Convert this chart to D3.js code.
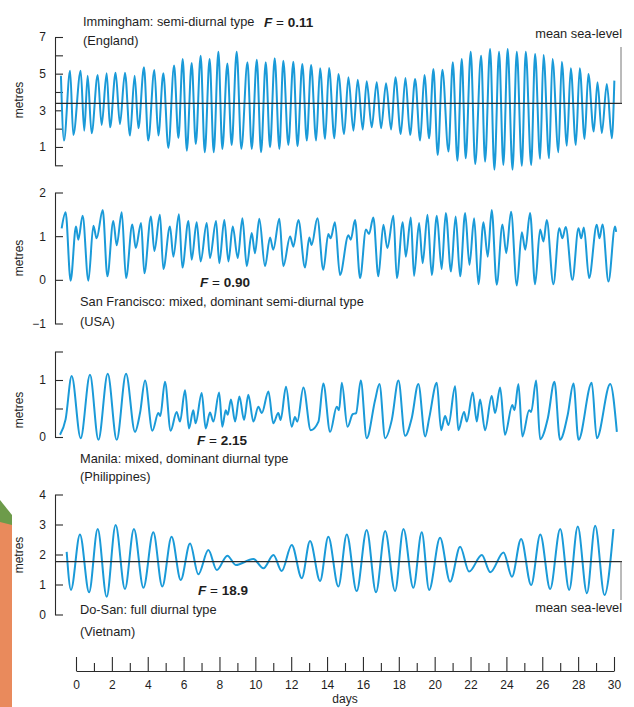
<!DOCTYPE html>
<html><head><meta charset="utf-8">
<script src="https://cdn.jsdelivr.net/npm/d3@7"></script>
<style>
body{margin:0;background:#fff}
svg{display:block}
text{font-family:"Liberation Sans Narrow","Arial Narrow","Liberation Sans",sans-serif;fill:#1e1e1e}
</style>
</head><body>
<svg id="chart" width="634" height="707"></svg>
<script>
// ---------- data ----------
const dayTicks = d3.range(0, 31, 2);
const dayMinor = d3.range(1, 30, 2);

const imminghamTime = [-0.84,-0.67,-0.33,-0.15,0.26,0.46,0.65,0.87,1.21,1.43,1.71,1.90,2.21,2.45,2.73,3.01,3.27,3.48,3.79,4.03,4.37,4.59,4.87,5.15,5.47,5.71,5.95,6.18,6.45,6.68,6.95,7.18,7.45,7.68,7.94,8.16,8.44,8.68,8.96,9.22,9.56,9.80,10.08,10.32,10.58,10.82,11.08,11.34,11.56,11.84,12.12,12.35,12.62,12.87,13.11,13.39,13.61,13.89,14.11,14.41,14.63,14.95,15.19,15.47,15.71,15.99,16.21,16.49,16.77,17.01,17.29,17.57,17.81,18.11,18.37,18.63,18.91,19.19,19.43,19.69,19.93,20.17,20.43,20.77,21.01,21.27,21.51,21.73,22.01,22.26,22.59,22.81,23.09,23.33,23.59,23.83,24.07,24.34,24.58,24.86,25.08,25.38,25.60,25.88,26.07,26.38,26.57,26.90,27.09,27.37,27.59,27.87,28.09,28.36,28.57,28.87,29.08,29.32,29.60,29.88,30.02];
const imminghamLevel = [4.89,1.35,5.16,1.65,5.16,1.89,4.89,1.75,4.93,2.20,5.02,2.07,5.05,2.25,5.05,1.62,4.89,2.02,5.35,1.35,5.20,1.62,5.02,0.95,5.44,1.49,5.80,0.80,5.58,1.16,5.98,0.71,5.80,0.71,6.20,0.89,5.56,1.11,6.20,0.90,5.62,0.89,5.76,0.71,5.62,0.98,5.84,0.89,5.71,1.11,5.65,1.04,5.53,1.35,5.47,1.35,5.29,1.44,5.31,1.47,4.98,1.71,4.80,1.89,4.67,1.95,4.58,2.07,4.53,2.02,4.47,1.95,4.80,1.71,4.76,1.65,4.71,1.35,4.93,1.47,5.25,0.56,5.22,0.75,5.62,0.25,5.80,0.38,6.20,0.07,5.98,0.20,6.35,-0.24,6.20,0.02,6.35,-0.24,6.20,-0.02,6.20,0.02,6.07,0.35,6.02,0.38,5.80,0.71,5.65,1.07,5.29,1.11,5.29,1.44,4.98,1.84,4.53,1.76,4.44,1.47,4.62];

const sanFranciscoTime = [-0.80,-0.58,-0.30,0.00,0.13,0.37,0.69,0.97,1.15,1.49,1.75,2.08,2.27,2.55,2.79,3.14,3.33,3.63,3.81,4.18,4.37,4.68,4.87,5.24,5.43,5.74,5.93,6.27,6.45,6.73,6.95,7.29,7.47,7.81,7.99,8.27,8.50,8.74,9.02,9.28,9.52,9.80,9.98,10.22,10.54,10.82,11.00,11.34,11.56,11.94,12.12,12.40,12.77,13.01,13.14,13.46,13.79,14.07,14.20,14.44,14.72,15.19,15.32,15.56,15.84,16.17,16.34,16.58,16.86,17.14,17.36,17.70,17.89,18.22,18.39,18.67,18.85,19.13,19.33,19.60,19.84,20.12,20.39,20.62,20.91,21.17,21.42,21.70,21.94,22.20,22.44,22.72,22.96,23.18,23.46,23.78,23.99,24.26,24.58,24.86,25.05,25.32,25.60,25.88,26.07,26.25,26.62,26.95,27.12,27.31,27.68,28.02,28.17,28.32,28.61,29.04,29.19,29.36,29.69,30.06,30.12];
const sanFranciscoLevel = [1.18,1.55,-0.02,1.22,0.92,1.47,-0.02,1.24,0.95,1.60,0.08,1.35,0.79,1.55,0.04,1.27,0.73,1.30,0.15,1.45,0.66,1.49,0.25,1.22,0.53,1.50,0.28,1.35,0.46,1.32,0.42,1.30,0.50,1.35,0.38,1.37,0.42,1.22,0.50,1.41,0.31,1.07,0.61,1.40,0.31,0.97,0.69,1.40,0.31,0.99,0.76,1.37,0.28,0.97,0.80,1.41,0.23,1.05,0.95,1.32,0.11,1.02,0.92,1.37,0.04,1.15,1.05,1.43,0.08,1.26,0.73,1.47,0.04,1.32,0.53,1.43,0.09,1.30,0.38,1.49,0.11,1.47,0.25,1.53,0.19,1.45,0.08,1.53,0.34,1.41,-0.10,1.32,0.53,1.60,-0.11,1.27,0.61,1.56,-0.13,1.09,0.69,1.53,-0.10,1.15,0.88,1.37,-0.10,1.18,0.95,1.21,0.00,1.18,0.95,1.20,0.04,1.26,0.95,1.27,-0.04,1.22,1.10];

const manilaTime = [-0.89,-0.58,-0.24,0.26,0.78,1.25,1.77,2.27,2.79,3.29,3.57,3.85,4.26,4.59,4.70,4.96,5.28,5.61,5.80,6.08,6.30,6.54,6.67,7.01,7.23,7.47,7.66,7.98,8.16,8.35,8.46,8.64,8.87,9.11,9.37,9.61,9.89,10.17,10.36,10.73,11.00,11.28,11.41,11.71,12.03,12.21,12.34,12.68,13.09,13.52,13.79,14.17,14.54,14.67,14.82,15.14,15.43,15.62,15.88,16.21,16.68,16.92,17.24,17.61,17.98,18.35,18.72,19.09,19.47,19.70,20.12,20.36,20.58,20.77,21.14,21.32,21.64,21.79,22.12,22.35,22.53,22.81,23.18,23.37,23.65,23.92,24.33,24.45,24.67,24.89,25.27,25.38,25.66,25.88,26.31,26.68,26.99,27.42,27.74,28.02,28.76,29.04,29.79,30.16];
const manilaLevel = [0.04,0.31,1.07,-0.02,1.09,-0.05,1.11,-0.05,1.11,0.09,0.42,0.99,0.11,0.42,0.37,0.97,0.11,0.44,0.27,0.82,0.15,0.47,0.24,0.77,0.15,0.43,0.27,0.78,0.18,0.47,0.39,0.66,0.27,0.71,0.30,0.74,0.27,0.53,0.42,0.80,0.24,0.42,0.30,0.88,0.18,0.35,0.27,0.87,0.12,0.27,0.94,0.09,0.53,0.47,0.95,0.18,0.40,0.42,0.99,-0.02,0.65,0.93,-0.02,0.30,0.99,0.02,0.33,0.93,0.01,0.34,0.95,0.12,0.37,0.21,0.89,0.12,0.44,0.27,0.78,0.27,0.66,0.12,0.72,0.42,0.87,0.04,0.56,0.47,0.93,0.01,0.47,0.44,0.99,-0.04,0.33,0.97,-0.05,0.39,0.94,-0.05,0.95,-0.02,0.93,0.09];

const doSanTime = [-0.52,-0.28,0.22,0.73,1.21,1.71,2.21,2.73,3.23,3.76,4.31,4.81,5.33,5.84,6.36,6.82,7.38,7.85,8.44,8.91,9.89,10.45,11.01,11.47,12.03,12.59,13.05,13.61,14.07,14.63,15.10,15.65,16.21,16.73,17.24,17.79,18.26,18.81,19.28,19.69,20.30,20.86,21.42,21.92,22.63,23.10,23.84,24.31,24.82,25.38,25.89,26.44,27.00,27.50,27.98,28.49,28.95,29.47,29.97];
const doSanLevel = [2.09,0.82,2.67,0.74,2.85,0.59,2.98,0.85,2.85,0.89,2.74,0.93,2.59,1.15,2.37,1.34,2.15,1.48,1.96,1.65,1.85,1.54,1.98,1.45,2.32,1.21,2.45,1.12,2.59,0.93,2.67,0.78,2.82,0.74,2.78,0.78,2.85,0.89,2.74,0.82,2.56,1.09,2.26,1.43,1.98,1.41,2.07,1.26,2.52,0.98,2.67,0.85,2.85,0.82,2.93,0.71,2.96,0.65,2.85];

const imminghamMean = 3.38;
const doSanMean = 1.76;

// ---------- layout ----------
const svg = d3.select("#chart");
const axisX = 55;
const x = d3.scaleLinear().domain([0, 30]).range([76, 614]);
const curveColor = "#1a9ad8";
const inkColor = "#2a2a2a";

// background fragment at left edge of the scan
svg.append("path").attr("d","M0,505 L12,520 L12,707 L0,707 Z").attr("fill","#e98a5c");
svg.append("path").attr("d","M0,500 L12,515 L12,525 L0,522 Z").attr("fill","#6d9b4a");

const panels = [
  {time: imminghamTime, level: imminghamLevel, domain:[0,7], range:[165.3,37], ticks:d3.range(0,8), labels:[1,3,5,7], labelY:100},
  {time: sanFranciscoTime, level: sanFranciscoLevel, domain:[-1,2], range:[323.5,192.5], ticks:[-1,0,1,2], labels:[-1,0,1,2], labelY:258},
  {time: manilaTime, level: manilaLevel, domain:[0,1.5], range:[437,351.5], ticks:[0,0.5,1,1.5], labels:[0,1], labelY:410},
  {time: doSanTime, level: doSanLevel, domain:[0,4], range:[614.5,494.5], ticks:[0,1,2,3,4], labels:[0,1,2,3,4], labelY:555}
];

panels.forEach((p, i) => {
  p.y = d3.scaleLinear().domain(p.domain).range(p.range);
  const ax = d3.axisLeft(p.y).tickValues(p.ticks).tickSizeInner(-8).tickSizeOuter(0).tickPadding(9)
    .tickFormat(d => p.labels.includes(d) ? (d < 0 ? "\u2212" + Math.abs(d) : d) : "");
  const g = svg.append("g").attr("transform", `translate(${axisX},0)`).call(ax);
  g.selectAll("path,line").attr("stroke", inkColor).attr("stroke-width", 1.1);
  g.selectAll("text").attr("font-size", 12).style("font-family", '"Liberation Sans Narrow","Liberation Sans",sans-serif').attr("fill","#1e1e1e");
  svg.append("text").attr("transform", `translate(23,${p.labelY}) rotate(-90)`)
    .attr("text-anchor","middle").attr("font-size",12).text("metres");
});

// mean sea-level lines
function meanLine(p, v, markTop, markBottom) {
  svg.append("line").attr("x1", axisX).attr("x2", 622).attr("y1", p.y(v)).attr("y2", p.y(v))
    .attr("stroke", inkColor).attr("stroke-width", 1.2);
  svg.append("line").attr("x1", 621).attr("x2", 621).attr("y1", markTop).attr("y2", markBottom)
    .attr("stroke", "#777").attr("stroke-width", 1);
}

// curves
panels.forEach(p => {
  const pts = p.time.map((t, k) => [t, p.level[k]]);
  const line = d3.line().x(d => x(d[0])).y(d => p.y(d[1])).curve(d3.curveMonotoneX);
  svg.append("path").datum(pts).attr("d", line).attr("fill","none")
    .attr("stroke", curveColor).attr("stroke-width", 2).attr("stroke-linejoin","round");
});

meanLine(panels[0], imminghamMean, 47, panels[0].y(imminghamMean));
meanLine(panels[3], doSanMean, panels[3].y(doSanMean), 600);

// titles
function fLabel(xp, yp, val) {
  const t = svg.append("text").attr("x", xp).attr("y", yp).attr("font-size", 13.5);
  t.append("tspan").attr("font-style","italic").attr("font-weight","bold").text("F");
  t.append("tspan").text(" = ");
  t.append("tspan").attr("font-weight","bold").text(val);
}
function txt(xp, yp, s, anchor) {
  svg.append("text").attr("x", xp).attr("y", yp).attr("font-size", 12.8)
    .attr("text-anchor", anchor || "start").text(s);
}
txt(83, 26, "Immingham: semi-diurnal type");
fLabel(264, 27, "0.11");
txt(83, 45, "(England)");
txt(622, 38, "mean sea-level", "end");

fLabel(200, 287, "0.90");
txt(80, 306, "San Francisco: mixed, dominant semi-diurnal type");
txt(80, 326, "(USA)");

fLabel(197, 445, "2.15");
txt(80, 463, "Manila: mixed, dominant diurnal type");
txt(80, 481, "(Philippines)");

fLabel(198, 595, "18.9");
txt(80, 614, "Do-San: full diurnal type");
txt(80, 636, "(Vietnam)");
txt(622, 612, "mean sea-level", "end");

// x axis
const xAxisY = 671;
const gx = svg.append("g").attr("transform", `translate(0,${xAxisY})`)
  .call(d3.axisBottom(x).tickValues(dayTicks).tickSizeInner(-14).tickSizeOuter(0).tickPadding(8).tickFormat(d3.format("d")));
gx.selectAll("path,line").attr("stroke", inkColor).attr("stroke-width", 1.1);
gx.selectAll("text").attr("font-size", 12).attr("dy","0.85em").style("font-family", '"Liberation Sans Narrow","Liberation Sans",sans-serif').attr("fill","#1e1e1e");
const gm = svg.append("g").attr("transform", `translate(0,${xAxisY})`)
  .call(d3.axisBottom(x).tickValues(dayMinor).tickSizeInner(-8).tickSizeOuter(0).tickFormat(""));
gm.select(".domain").remove();
gm.selectAll("line").attr("stroke", inkColor).attr("stroke-width", 1.1);
svg.append("text").attr("x", 345).attr("y", 703).attr("text-anchor","middle").attr("font-size",12).text("days");
</script>
</body></html>
